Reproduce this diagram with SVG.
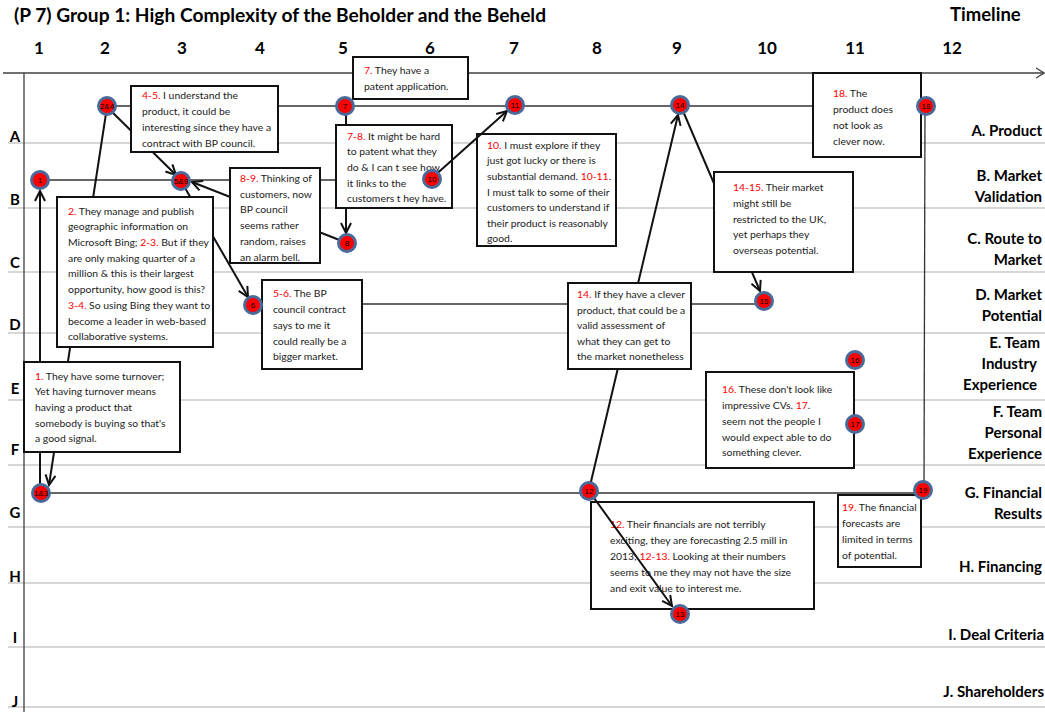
<svg xmlns="http://www.w3.org/2000/svg" width="1045" height="712" viewBox="0 0 1045 712">
<style>
.sep{stroke:#c8c8c8;stroke-width:1.5}
.axis{stroke:#404040;stroke-width:1.3;fill:none}
.link{stroke:#333;stroke-width:1.3;fill:none}
.arr{stroke:#111;stroke-width:2;fill:none;marker-end:url(#ah)}
.box{fill:#fff;stroke:#111;stroke-width:2}
.bt{font-family:Lato,"Liberation Sans",sans-serif;font-size:10.4px;fill:#222}
.r{fill:#ff0000}
.dot{fill:#ff0000;stroke:#4a6a9a;stroke-width:3}
.nl{font-family:"Liberation Sans",sans-serif;font-size:8px;text-anchor:middle;fill:#000}
.hd{font-family:Lato,"Liberation Sans",sans-serif;font-weight:bold;fill:#000}
.rl{font-family:Lato,"Liberation Sans",sans-serif;font-weight:bold;font-size:15px;fill:#000;text-anchor:end}
.lt{font-family:Lato,"Liberation Sans",sans-serif;font-weight:bold;font-size:15px;fill:#000;text-anchor:middle}
.cn{font-family:Lato,"Liberation Sans",sans-serif;font-weight:bold;font-size:17px;fill:#000;text-anchor:middle}
</style>
<defs>
<marker id="ah" markerUnits="userSpaceOnUse" markerWidth="14" markerHeight="14" refX="11" refY="6" orient="auto"><path d="M1,1 L11,6 L1,11" fill="none" stroke="#111" stroke-width="2"/></marker>
</defs>
<rect width="1045" height="712" fill="#fff"/>
<g id="grid">
<line class="sep" x1="8" y1="143" x2="1045" y2="143"/>
<line class="sep" x1="8" y1="208" x2="1045" y2="208"/>
<line class="sep" x1="8" y1="272" x2="1045" y2="272"/>
<line class="sep" x1="8" y1="333" x2="1045" y2="333"/>
<line class="sep" x1="8" y1="400" x2="1045" y2="400"/>
<line class="sep" x1="8" y1="465" x2="1045" y2="465"/>
<line class="sep" x1="8" y1="527" x2="1045" y2="527"/>
<line class="sep" x1="8" y1="583" x2="1045" y2="583"/>
<line class="sep" x1="8" y1="647" x2="1045" y2="647"/>
<line class="sep" x1="8" y1="707" x2="1045" y2="707"/>
<line class="axis" x1="3" y1="73" x2="1043" y2="73"/>
<path class="axis" d="M1036,68 L1044,73 L1036,78"/>
<line class="axis" x1="24" y1="73" x2="24" y2="712"/>
</g>
<g id="titles">
<text class="hd" x="14" y="22" font-size="19" textLength="532" lengthAdjust="spacingAndGlyphs">(P 7) Group  1: High Complexity of the Beholder and the Beheld</text>
<text class="hd" x="950" y="21" font-size="18.5">Timeline</text>
<text class="cn" x="39" y="54">1</text>
<text class="cn" x="105" y="54">2</text>
<text class="cn" x="182" y="54">3</text>
<text class="cn" x="260" y="54">4</text>
<text class="cn" x="343" y="54">5</text>
<text class="cn" x="430" y="54">6</text>
<text class="cn" x="514" y="54">7</text>
<text class="cn" x="597" y="54">8</text>
<text class="cn" x="677" y="54">9</text>
<text class="cn" x="767" y="54">10</text>
<text class="cn" x="855" y="54">11</text>
<text class="cn" x="952" y="54">12</text>
<text class="lt" x="15" y="142">A</text>
<text class="lt" x="15" y="205">B</text>
<text class="lt" x="15" y="268">C</text>
<text class="lt" x="15" y="330">D</text>
<text class="lt" x="15" y="394">E</text>
<text class="lt" x="15" y="455">F</text>
<text class="lt" x="15" y="518">G</text>
<text class="lt" x="15" y="582">H</text>
<text class="lt" x="15" y="643">I</text>
<text class="lt" x="15" y="707">J</text>
<text class="rl" x="1042" y="136">A. Product</text>
<text class="rl" x="1042" y="181">B. Market</text>
<text class="rl" x="1042" y="202">Validation</text>
<text class="rl" x="1042" y="244">C. Route to</text>
<text class="rl" x="1042" y="265">Market</text>
<text class="rl" x="1042" y="300">D. Market</text>
<text class="rl" x="1042" y="321">Potential</text>
<text class="rl" x="1040" y="348">E. Team</text>
<text class="rl" x="1037" y="369">Industry</text>
<text class="rl" x="1037" y="390">Experience</text>
<text class="rl" x="1042" y="417">F. Team</text>
<text class="rl" x="1042" y="438">Personal</text>
<text class="rl" x="1042" y="459">Experience</text>
<text class="rl" x="1042" y="498">G. Financial</text>
<text class="rl" x="1042" y="519">Results</text>
<text class="rl" x="1042" y="572">H. Financing</text>
<text class="rl" x="1044" y="640">I. Deal Criteria</text>
<text class="rl" x="1044" y="697">J. Shareholders</text>
</g>
<g id="connectors">
<line class="link" x1="107" y1="106" x2="926" y2="106"/>
<line class="link" x1="40" y1="180" x2="432" y2="180"/>
<line class="link" x1="253" y1="304" x2="764" y2="304"/>
<line class="link" x1="41" y1="493" x2="923" y2="493"/>
<line class="link" x1="925" y1="107" x2="924" y2="490"/>
<line class="arr" x1="40" y1="484" x2="40" y2="191"/>
<line class="arr" x1="107" y1="107" x2="49" y2="485"/>
<line class="arr" x1="107" y1="107" x2="176" y2="175"/>
<line class="arr" x1="181" y1="181" x2="248" y2="297"/>
<line class="arr" x1="347" y1="243" x2="192" y2="182"/>
<line class="arr" x1="346" y1="107" x2="346" y2="233"/>
<line class="arr" x1="589" y1="490" x2="678" y2="115"/>
<line class="arr" x1="680" y1="104" x2="760" y2="291"/>
</g>
<g id="note-7">
<rect class="box" x="353" y="57" width="115" height="42"/>
<text class="bt" x="364" y="74"><tspan class="r">7.</tspan> They have a</text>
<text class="bt" x="364" y="90">patent application.</text>
</g>
<g id="note-4-5">
<rect class="box" x="131" y="86" width="147" height="66"/>
<text class="bt" x="142" y="99"><tspan class="r">4-5.</tspan> I understand  the</text>
<text class="bt" x="142" y="115">product,  it could be</text>
<text class="bt" x="142" y="131">interesting since they have a</text>
<text class="bt" x="142" y="147">contract with BP council.</text>
</g>
<g id="note-2">
<rect class="box" x="57" y="197" width="156" height="150"/>
<text class="bt" x="68" y="215"><tspan class="r">2.</tspan> They manage and publish</text>
<text class="bt" x="68" y="230">geographic information  on</text>
<text class="bt" x="68" y="246">Microsoft Bing; <tspan class="r">2-3.</tspan> But if they</text>
<text class="bt" x="68" y="262">are only making quarter of a</text>
<text class="bt" x="68" y="277">million &amp; this is their largest</text>
<text class="bt" x="68" y="293">opportunity,  how good is this?</text>
<text class="bt" x="68" y="309"><tspan class="r">3-4.</tspan> So using Bing they want to</text>
<text class="bt" x="68" y="325">become a leader in web-based</text>
<text class="bt" x="68" y="340">collaborative  systems.</text>
</g>
<g id="note-1">
<rect class="box" x="24" y="362" width="156" height="90"/>
<text class="bt" x="35" y="380"><tspan class="r">1.</tspan> They have some turnover;</text>
<text class="bt" x="35" y="395">Yet having turnover  means</text>
<text class="bt" x="35" y="411">having a product  that</text>
<text class="bt" x="35" y="427">somebody is buying so that's</text>
<text class="bt" x="35" y="442">a good signal.</text>
</g>
<g id="note-8-9">
<rect class="box" x="230" y="168" width="90" height="95"/>
<text class="bt" x="240" y="182"><tspan class="r">8-9.</tspan> Thinking  of</text>
<text class="bt" x="240" y="198">customers,  now</text>
<text class="bt" x="240" y="213">BP council</text>
<text class="bt" x="240" y="229">seems rather</text>
<text class="bt" x="240" y="245">random,  raises</text>
<text class="bt" x="240" y="261">an alarm bell.</text>
</g>
<g id="note-7-8">
<rect class="box" x="336" y="125" width="116" height="83"/>
<text class="bt" x="347" y="140"><tspan class="r">7-8.</tspan> It might be hard</text>
<text class="bt" x="347" y="155">to patent what they</text>
<text class="bt" x="347" y="171">do &amp; I can t see how</text>
<text class="bt" x="347" y="187">it links to the</text>
<text class="bt" x="347" y="202">customers t hey have.</text>
</g>
<g id="note-10">
<rect class="box" x="477" y="134" width="139" height="112"/>
<text class="bt" x="487" y="149"><tspan class="r">10.</tspan> I must explore  if they</text>
<text class="bt" x="487" y="164">just got lucky  or there is</text>
<text class="bt" x="487" y="180">substantial  demand.  <tspan class="r">10-11</tspan>.</text>
<text class="bt" x="487" y="196">I must talk to some of their</text>
<text class="bt" x="487" y="211">customers to understand  if</text>
<text class="bt" x="487" y="227">their product  is reasonably</text>
<text class="bt" x="487" y="242">good.</text>
</g>
<g id="note-18">
<rect class="box" x="813" y="73" width="108" height="84"/>
<text class="bt" x="833" y="97"><tspan class="r">18.</tspan> The</text>
<text class="bt" x="833" y="113">product  does</text>
<text class="bt" x="833" y="129">not look as</text>
<text class="bt" x="833" y="145">clever now.</text>
</g>
<g id="note-14-15">
<rect class="box" x="714" y="172" width="139" height="100"/>
<text class="bt" x="733" y="191"><tspan class="r">14-15.</tspan> Their market</text>
<text class="bt" x="733" y="207">might still be</text>
<text class="bt" x="733" y="223">restricted to the  UK,</text>
<text class="bt" x="733" y="238">yet perhaps  they</text>
<text class="bt" x="733" y="254">overseas  potential.</text>
</g>
<g id="note-5-6">
<rect class="box" x="262" y="280" width="100" height="89"/>
<text class="bt" x="273" y="297"><tspan class="r">5-6.</tspan> The BP</text>
<text class="bt" x="273" y="313">council  contract</text>
<text class="bt" x="273" y="329">says to me it</text>
<text class="bt" x="273" y="345">could really be a</text>
<text class="bt" x="273" y="360">bigger market.</text>
</g>
<g id="note-14">
<rect class="box" x="568" y="283" width="123" height="86"/>
<text class="bt" x="577" y="298"><tspan class="r">14.</tspan> If they  have a clever</text>
<text class="bt" x="577" y="314">product,  that could  be a</text>
<text class="bt" x="577" y="329">valid assessment  of</text>
<text class="bt" x="577" y="345">what they can  get to</text>
<text class="bt" x="577" y="360">the market  nonetheless</text>
</g>
<g id="note-16-17">
<rect class="box" x="706" y="372" width="148" height="96"/>
<text class="bt" x="722" y="393"><tspan class="r">16.</tspan> These don't look like</text>
<text class="bt" x="722" y="409">impressive CVs.    <tspan class="r">17</tspan>.</text>
<text class="bt" x="722" y="425">seem not the people I</text>
<text class="bt" x="722" y="441">would expect able to do</text>
<text class="bt" x="722" y="456">something  clever.</text>
</g>
<g id="note-19">
<rect class="box" x="838" y="495" width="83" height="72"/>
<text class="bt" x="842" y="511"><tspan class="r">19.</tspan> The financial</text>
<text class="bt" x="842" y="527">forecasts are</text>
<text class="bt" x="842" y="543">limited in terms</text>
<text class="bt" x="842" y="559">of potential.</text>
</g>
<g id="note-12">
<rect class="box" x="591" y="502" width="223" height="107"/>
<text class="bt" x="610" y="528"><tspan class="r">12.</tspan> Their financials  are not terribly</text>
<text class="bt" x="610" y="544">exciting,  they are forecasting  2.5 mill in</text>
<text class="bt" x="610" y="560">2013; <tspan class="r">12-13.</tspan> Looking  at their numbers</text>
<text class="bt" x="610" y="576">seems to me they may not have the size</text>
<text class="bt" x="610" y="592">and exit  value  to interest me.</text>
</g>
<g id="connectors-over">
<line class="arr" x1="432" y1="178" x2="507" y2="111"/>
<line class="arr" x1="589" y1="491" x2="672" y2="606"/>
</g>
<g id="node-1"><circle class="dot" cx="40" cy="180" r="8.5"/><text class="nl" x="40" y="183">1</text></g>
<g id="node-2-4"><circle class="dot" cx="107" cy="106" r="8.5"/><text class="nl" x="107" y="109">2&amp;4</text></g>
<g id="node-5-9"><circle class="dot" cx="181" cy="181" r="8.5"/><text class="nl" x="181" y="184">5&amp;9</text></g>
<g id="node-6"><circle class="dot" cx="253" cy="305" r="8.5"/><text class="nl" x="253" y="308">6</text></g>
<g id="node-7"><circle class="dot" cx="345" cy="106" r="8.5"/><text class="nl" x="345" y="109">7</text></g>
<g id="node-8"><circle class="dot" cx="347" cy="243" r="8.5"/><text class="nl" x="347" y="246">8</text></g>
<g id="node-10"><circle class="dot" cx="432" cy="179" r="8.5"/><text class="nl" x="432" y="182">10</text></g>
<g id="node-11"><circle class="dot" cx="515" cy="105" r="8.5"/><text class="nl" x="515" y="108">11</text></g>
<g id="node-14"><circle class="dot" cx="680" cy="105" r="8.5"/><text class="nl" x="680" y="108">14</text></g>
<g id="node-18"><circle class="dot" cx="926" cy="106" r="8.5"/><text class="nl" x="926" y="109">18</text></g>
<g id="node-15"><circle class="dot" cx="764" cy="301" r="8.5"/><text class="nl" x="764" y="304">15</text></g>
<g id="node-16"><circle class="dot" cx="855" cy="360" r="8.5"/><text class="nl" x="855" y="363">16</text></g>
<g id="node-17"><circle class="dot" cx="855" cy="424" r="8.5"/><text class="nl" x="855" y="427">17</text></g>
<g id="node-19"><circle class="dot" cx="923" cy="490" r="8.5"/><text class="nl" x="923" y="493">19</text></g>
<g id="node-12"><circle class="dot" cx="589" cy="491" r="8.5"/><text class="nl" x="589" y="494">12</text></g>
<g id="node-13"><circle class="dot" cx="680" cy="614" r="8.5"/><text class="nl" x="680" y="617">13</text></g>
<g id="node-1-3"><circle class="dot" cx="41" cy="493" r="8.5"/><text class="nl" x="41" y="496">1&amp;3</text></g>
</svg>
